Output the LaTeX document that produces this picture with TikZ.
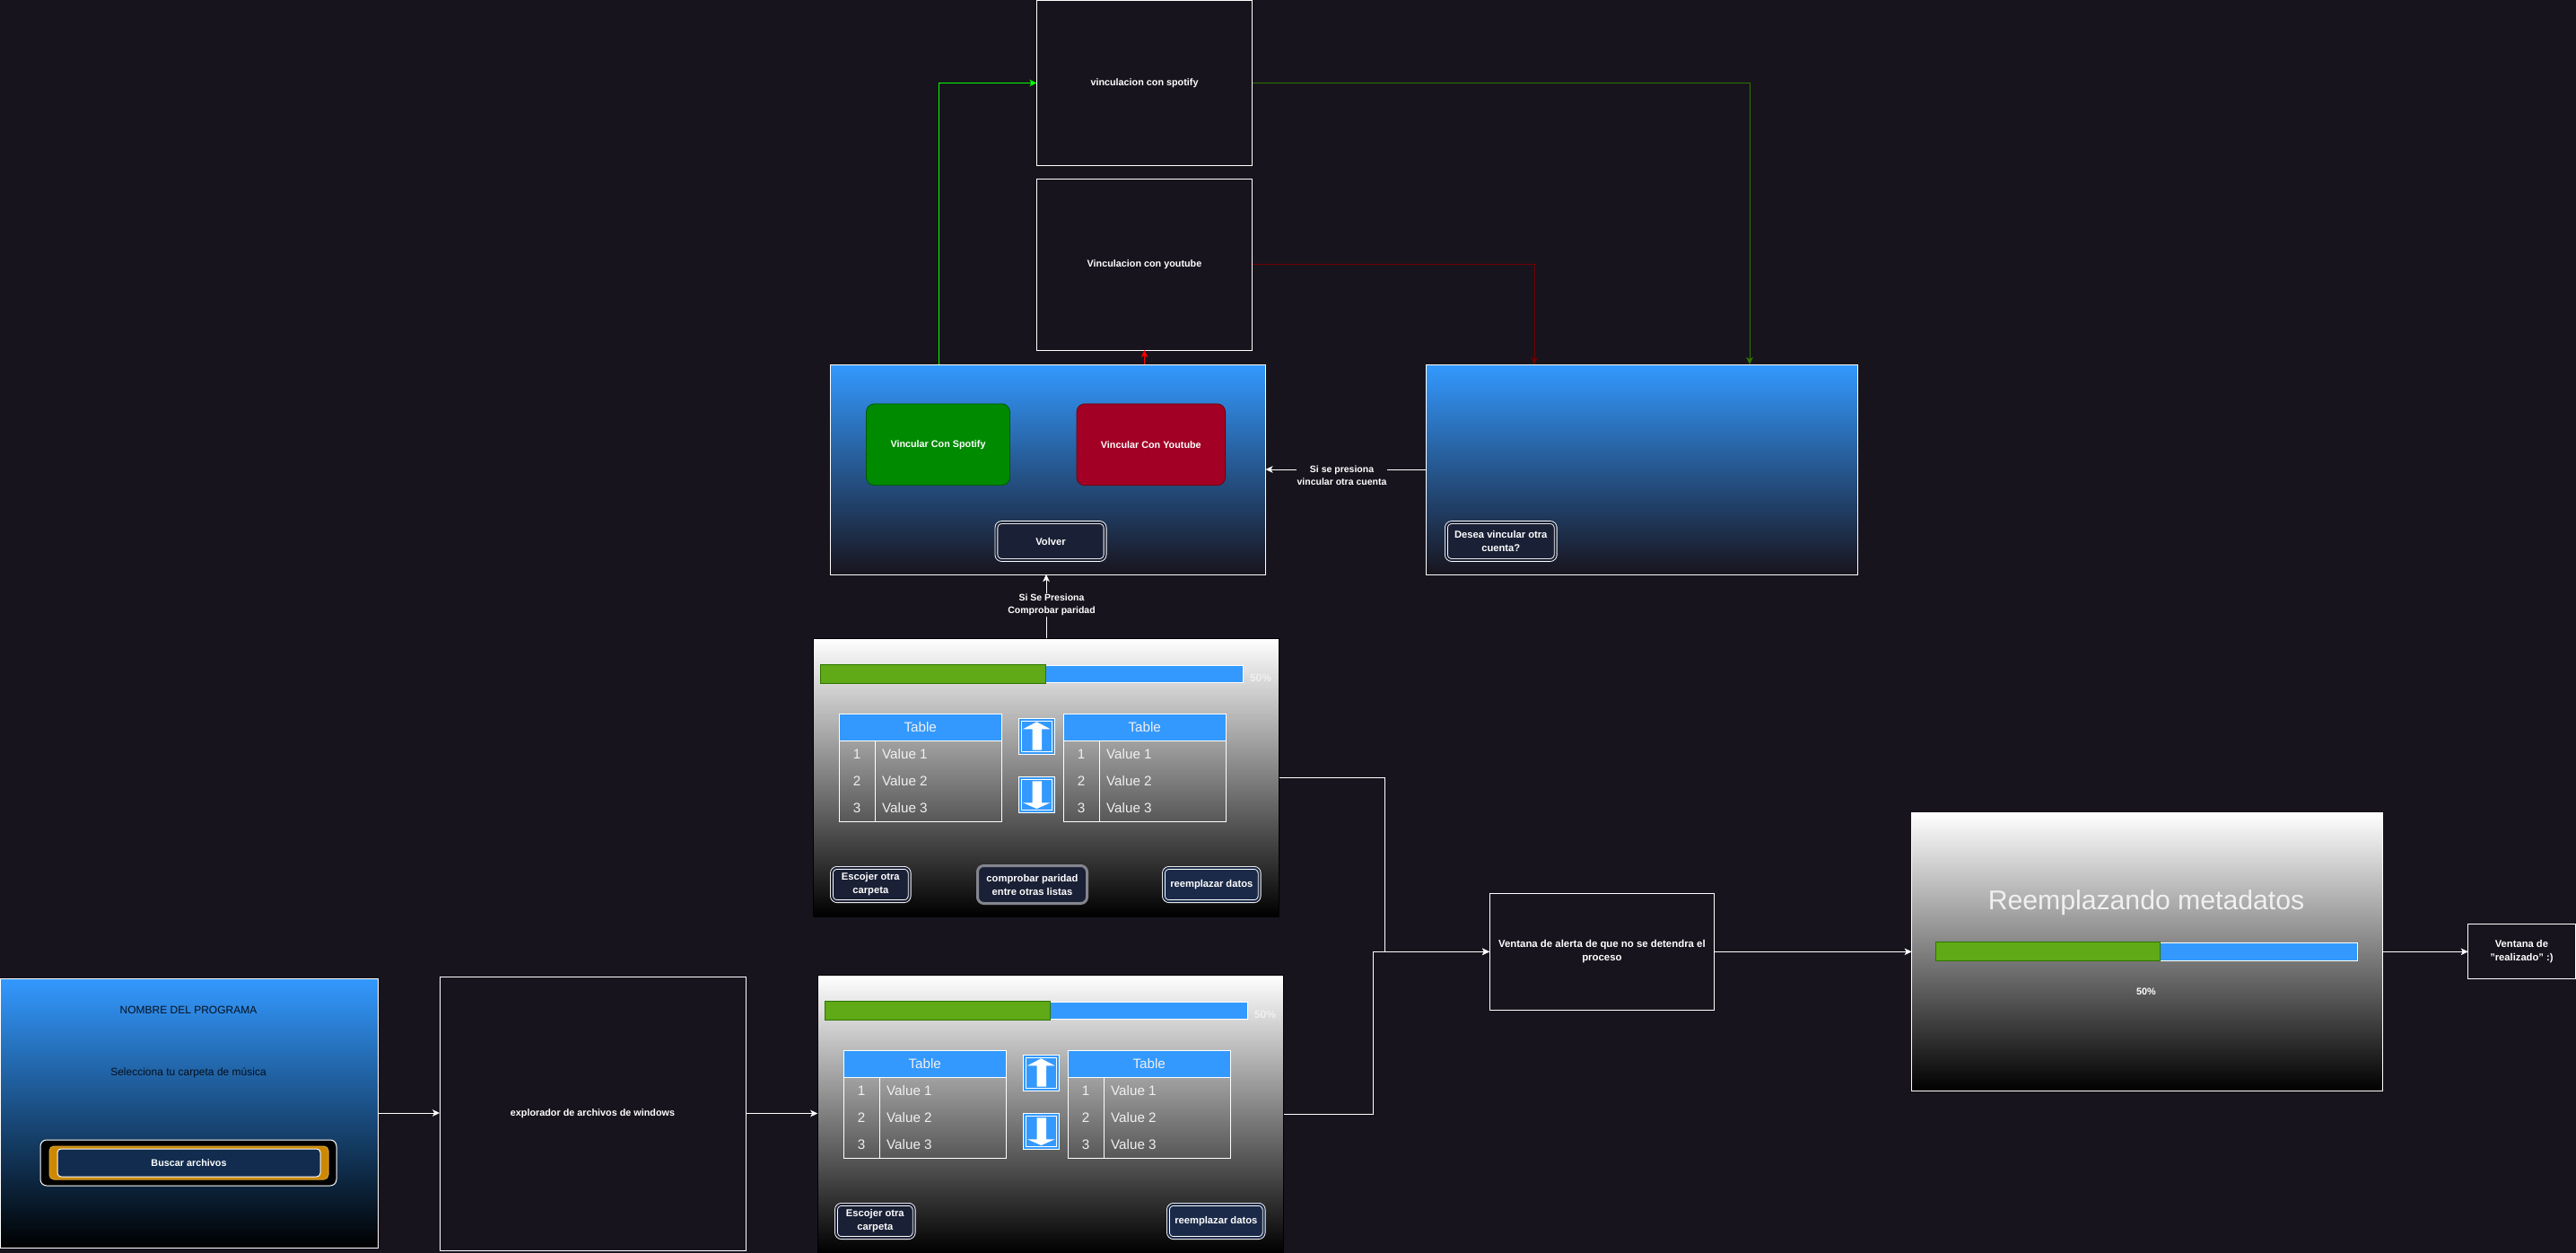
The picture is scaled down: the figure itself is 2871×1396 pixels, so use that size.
\documentclass[tikz,border=0pt]{standalone}
\usepackage{fontspec}
\setmainfont{Liberation Sans}
\usetikzlibrary{arrows.meta}

\definecolor{fondo}{HTML}{18141D}
\definecolor{azul}{HTML}{3399FF}
\definecolor{verdeBar}{HTML}{60A917}
\definecolor{verdeBorde}{HTML}{2D7600}
\definecolor{verdeBtn}{HTML}{008A00}
\definecolor{verdeBtnBorde}{HTML}{005700}
\definecolor{rojoBtn}{HTML}{A20025}
\definecolor{rojoBorde}{HTML}{6F0000}
\definecolor{oro}{HTML}{CC8800}
\definecolor{navy}{HTML}{112C4E}
\definecolor{btnUno}{HTML}{1A2035}
\definecolor{btnDos}{HTML}{1B2A48}
\definecolor{gris}{HTML}{85858F}
\definecolor{textoTabla}{HTML}{F0F0F0}
\definecolor{textoOscuro}{HTML}{05101E}

\tikzset{
  box/.style={draw=white,line width=1pt,inner sep=0pt,outer sep=0pt,align=center,text=white,font=\fontsize{10.8}{15}\selectfont\bfseries},
  screen/.style={box,shade,top color=azul,bottom color=#1},
  graybox/.style={box,draw=black,shade,top color=white,bottom color=black},
  roundbtn/.style={box,rounded corners=9pt,line width=.8pt},
  twin/.style={box,font=\fontsize{11.2}{15}\selectfont\bfseries,rounded corners=6pt,line width=.9pt,double=#1,double distance=2pt,fill=#1},
  barfill/.style={box,fill=azul},
  bargreen/.style={box,fill=verdeBar,draw=verdeBorde},
  tablehead/.style={box,fill=azul,font=\fontsize{15.2}{18}\selectfont,text=textoTabla},
  tablecell/.style={box},
  celltext/.style={inner sep=0pt,text=textoTabla,font=\fontsize{15.2}{18}\selectfont},
  arrowbtn/.style={draw=white,line width=.9pt,double=azul,double distance=2pt,fill=azul,inner sep=0pt,outer sep=0pt,minimum width=37pt,minimum height=37pt},
  edgelabel/.style={fill=fondo,inner sep=1pt,align=center,text=white,font=\fontsize{10.5}{14}\selectfont\bfseries},
  darktext/.style={inner sep=0pt,text=textoOscuro,font=\fontsize{12}{15}\selectfont},
  link/.style={->,white,line width=1pt},
}

% progress bar, two tables and arrows of a list window
\newcommand{\ListPanel}[3]{
\begin{scope}[shift={(#2,#3)}]
\node (#1barra) at (1275.3,750.5)[barfill,minimum width=220.6pt,minimum height=19pt] {};
\node (#1avance) at (1040,750.5)[bargreen,minimum width=250.5pt,minimum height=21pt] {};
\node (#1pct) at (1405,755)[inner sep=0pt,text=textoTabla,font=\fontsize{12}{15}\selectfont\bfseries] {50\%};

%left table
\node (#1headL) at (1025.75,810.4)[tablehead,minimum width=180.5pt,minimum height=29.6pt] {Table};
\node (#1numL) at (955.25,870)[tablecell,minimum width=39.5pt,minimum height=90pt] {};
\node (#1valL) at (1045.5,870)[tablecell,minimum width=141pt,minimum height=90pt] {};
\node (#1aL) at (955,840)[celltext] {1};
\node (#1bL) at (955,870)[celltext] {2};
\node (#1cL) at (955,900)[celltext] {3};
\node (#1dL) at (983,840)[celltext,anchor=west] {Value 1};
\node (#1eL) at (983,870)[celltext,anchor=west] {Value 2};
\node (#1fL) at (983,900)[celltext,anchor=west] {Value 3};

%right table
\node (#1headR) at (1275.75,810.4)[tablehead,minimum width=180.5pt,minimum height=29.6pt] {Table};
\node (#1numR) at (1205.25,870)[tablecell,minimum width=39.5pt,minimum height=90pt] {};
\node (#1valR) at (1295.5,870)[tablecell,minimum width=141pt,minimum height=90pt] {};
\node (#1aR) at (1205,840)[celltext] {1};
\node (#1bR) at (1205,870)[celltext] {2};
\node (#1cR) at (1205,900)[celltext] {3};
\node (#1dR) at (1233,840)[celltext,anchor=west] {Value 1};
\node (#1eR) at (1233,870)[celltext,anchor=west] {Value 2};
\node (#1fR) at (1233,900)[celltext,anchor=west] {Value 3};

%up and down
\node (#1subir) at (1155.4,820.4)[arrowbtn] {};
\node (#1bajar) at (1155.4,885.5)[arrowbtn] {};
\fill[white] (1140,812.3)--(1155.4,804.3)--(1170.7,812.3)--(1161,812.3)--(1161,835.7)--(1150.7,835.7)--(1150.7,812.3)--cycle;
\fill[white] (1140,894.3)--(1155.4,901)--(1170.7,894.3)--(1161,894.3)--(1161,870.3)--(1150.7,870.3)--(1150.7,894.3)--cycle;

\node (#1escoger) at (970.3,985.5)[twin=btnUno,minimum width=86.7pt,minimum height=37.2pt] {Escojer otra\\carpeta};
\node (#1reemplazar) at (1350.3,985.5)[twin=btnDos,minimum width=106.7pt,minimum height=37.2pt] {reemplazar datos};
\end{scope}
}

\begin{document}
\begin{tikzpicture}
[x=1pt,y=-1pt,>={Stealth[length=8pt,width=7.5pt,inset=2pt]}]

\fill[fondo] (0,0) rectangle (2871,1396);
\useasboundingbox (0,0) rectangle (2871,1396);

%Account windows
\node (spotify) at (1275.5,92.5)[box,minimum width=240pt,minimum height=184pt] {vinculacion con spotify};
\node (youtube) at (1275.5,295)[box,minimum width=240pt,minimum height=190pt] {Vinculacion con youtube};
\node (vincular) at (1168,523)[screen=fondo,minimum width=485pt,minimum height=234pt] {};
\node (cuenta) at (1830.3,523)[screen=fondo,minimum width=480.7pt,minimum height=234pt] {};
\node (btnSpotify) at (1045.5,495.3)[roundbtn,fill=verdeBtn,draw=verdeBtnBorde,minimum width=160pt,minimum height=90.7pt] {Vincular Con Spotify};
\node (btnYoutube) at (1282.8,495.3)[roundbtn,fill=rojoBtn,draw=rojoBorde,minimum width=165.6pt,minimum height=90.7pt] {Vincular Con Youtube};
\node (btnVolver) at (1171,603)[twin=btnUno,minimum width=121.2pt,minimum height=41.9pt] {Volver};
\node (btnDesea) at (1672.8,603)[twin=btnUno,minimum width=121.8pt,minimum height=41.9pt] {Desea vincular otra\\cuenta?};

%First window
\node (principal) at (210.5,1240)[screen=black,minimum width=421pt,minimum height=300pt] {};
\node (titulo) at (210,1125)[darktext] {NOMBRE DEL PROGRAMA};
\node (selecciona) at (210,1195)[darktext] {Selecciona tu carpeta de música};
\node (marco) at (210,1295.5)[box,fill=black,rounded corners=7pt,minimum width=330pt,minimum height=51pt] {};
\node (dorado) at (210.5,1295.5)[box,fill=oro,draw=oro!80!white,rounded corners=5pt,minimum width=311pt,minimum height=37pt] {};
\node (buscar) at (210.5,1295.5)[box,fill=navy,rounded corners=4pt,minimum width=293pt,minimum height=31pt] {Buscar archivos};
\node (explorador) at (660.5,1240.5)[box,minimum width=341pt,minimum height=305pt] {explorador de archivos de windows};

%List windows
\node (listasA) at (1166,866)[graybox,minimum width=519.5pt,minimum height=310pt] {};
\ListPanel{a}{0}{0}
\node (comprobar) at (1150.5,985.5)[box,font=\fontsize{11.2}{15}\selectfont\bfseries,fill=btnUno,draw=gris,line width=3pt,rounded corners=7pt,minimum width=122pt,minimum height=42pt] {comprobar paridad\\entre otras listas};
\node (listasB) at (1171,1241)[graybox,minimum width=519.5pt,minimum height=310pt] {};
\ListPanel{b}{5}{375}

%Last windows
\node (alerta) at (1785.4,1060.3)[box,font=\fontsize{11.4}{15}\selectfont\bfseries,minimum width=250.8pt,minimum height=130pt] {Ventana de alerta de que no se detendra el\\proceso};
\node (progreso) at (2392.8,1060.3)[box,shade,top color=white,bottom color=black,minimum width=524.4pt,minimum height=310pt] {};
\node (rotulo) at (2392,1006)[inner sep=0pt,text=textoTabla,font=\fontsize{30.2}{36}\selectfont] {Reemplazando metadatos};
\node (barraFin) at (2517.5,1060.3)[barfill,minimum width=220pt,minimum height=19.7pt] {};
\node (avanceFin) at (2282.3,1060.3)[bargreen,minimum width=250.6pt,minimum height=20.7pt] {};
\node (pctFin) at (2392,1105)[inner sep=0pt,text=white,font=\fontsize{10.8}{14}\selectfont\bfseries] {50\%};
\node (realizado) at (2810.4,1060.3)[box,font=\fontsize{11.2}{15}\selectfont\bfseries,minimum width=119.3pt,minimum height=60.7pt] {Ventana de\\"realizado" :)};

%Free ends and elbows
\coordinate (salidaVerde) at (1046.5,406);
\coordinate (salidaRoja) at (1275.5,406);
\coordinate (llegaRoja) at (1710,406);
\coordinate (llegaVerde) at (1950,406);
\coordinate (codoA) at (1543,1060.3);
\coordinate (codoB) at (1530.3,1060.3);

%Joining windows
\draw[link] (principal.east) -- (principal.east -| explorador.west);
\draw[link] (explorador.east) -- (explorador.east -| listasB.west);
\draw[link] (listasA.east) -| (codoA) -- (alerta.west);
\draw[link] (listasB.east) -| (codoB) -- (alerta.west);
\draw[link] (alerta.east) -- (progreso.west);
\draw[link] (progreso.east) -- (realizado.west);
\draw[link] (listasA.north) -- (listasA.north |- vincular.south);
\draw[link] (cuenta.west) -- (vincular.east);

%Coloured links
\draw[->,green,line width=1pt] (salidaVerde) |- (spotify.west);
\draw[->,red,line width=1pt] (salidaRoja) -- (youtube.south);
\draw[->,verdeBorde,line width=1pt] (spotify.east) -| (llegaVerde);
\draw[->,rojoBorde,line width=1pt] (youtube.east) -| (llegaRoja);

%Link texts
\node (textoComprobar) at (1172,674)[edgelabel] {Si Se Presiona\\Comprobar paridad};
\node (textoCuenta) at (1495.5,530)[edgelabel] {Si se presiona\\vincular otra cuenta};

\end{tikzpicture}
\end{document}
